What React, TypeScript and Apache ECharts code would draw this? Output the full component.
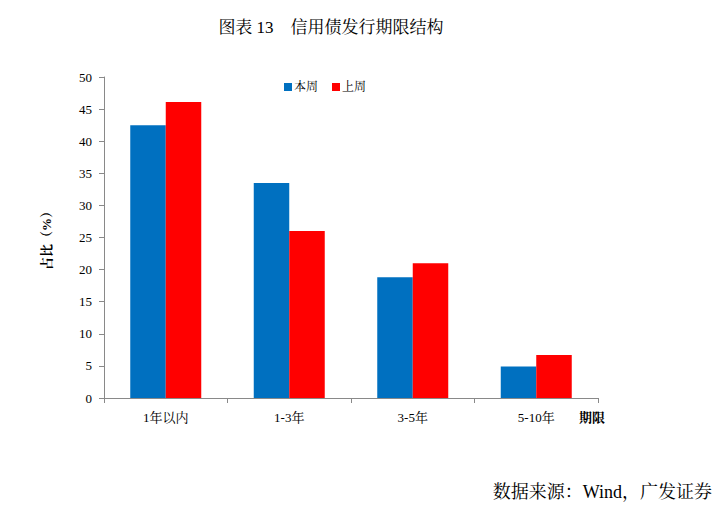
import React, { useEffect, useRef } from "react";
import * as echarts from "echarts";

const categories = ["1年以内", "1-3年", "3-5年", "5-10年"];
const thisWeek = [42.5, 33.5, 18.8, 4.9];
const lastWeek = [46.1, 26.0, 21.0, 6.7];
const seriesNames = ["本周", "上周"];

const SERIF = "'Liberation Serif', 'Noto Serif CJK SC', 'Noto Sans CJK SC', serif";

export default function App() {
  const ref = useRef<HTMLDivElement>(null);
  useEffect(() => {
    const chart = echarts.init(ref.current!, undefined, { renderer: "svg" });
    chart.setOption({
      animation: false,
      backgroundColor: "#fff",
      textStyle: { fontFamily: SERIF },
      title: {
        text: "图表 13    信用债发行期限结构",
        left: 318,
        textAlign: "center",
        top: 6,
        textStyle: { fontSize: 17, fontWeight: "normal", color: "#000", fontFamily: SERIF },
      },
      graphic: [
        {
          type: "text",
          right: 6,
          top: 475,
          style: { text: "数据来源：Wind，广发证券", fontSize: 18, fill: "#000", fontFamily: SERIF },
        },
        {
          type: "text",
          left: 571,
          top: 403,
          style: { text: "期限", fontSize: 13, fontWeight: "bold", fill: "#000", fontFamily: SERIF },
        },
      ],
      legend: {
        data: seriesNames,
        left: 271,
        top: 68,
        itemWidth: 8,
        itemHeight: 8,
        itemGap: 14,
        icon: "rect",
        textStyle: { fontSize: 12, color: "#000", fontFamily: SERIF, padding: [0, 0, 0, -3] },
      },
      grid: { left: 96, right: 120, top: 69, bottom: 104, containLabel: false },
      xAxis: {
        type: "category",
        data: categories,
        axisLine: { lineStyle: { color: "#898989" } },
        axisTick: { show: true, alignWithLabel: false, length: 5, lineStyle: { color: "#898989" } },
        axisLabel: { fontSize: 13, color: "#000", margin: 13, fontFamily: SERIF },
      },
      yAxis: {
        type: "value",
        min: 0,
        max: 50,
        interval: 5,
        name: "占比（%）",
        nameLocation: "middle",
        nameRotate: 90,
        nameGap: 51,
        nameTextStyle: { fontSize: 13, fontWeight: "bold", color: "#000", fontFamily: SERIF },
        axisLine: { show: true, lineStyle: { color: "#898989" } },
        axisTick: { show: true, length: 5, inside: false, lineStyle: { color: "#898989" } },
        splitLine: { show: false },
        axisLabel: { fontSize: 13, color: "#000", margin: 12, fontFamily: SERIF },
      },
      series: [
        {
          name: seriesNames[0],
          type: "bar",
          data: thisWeek,
          barWidth: 35.5,
          barGap: "0%",
          itemStyle: { color: "#0070C0" },
        },
        {
          name: seriesNames[1],
          type: "bar",
          data: lastWeek,
          barWidth: 35.5,
          barGap: "0%",
          itemStyle: { color: "#FF0000" },
        },
      ],
    });
    return () => chart.dispose();
  }, []);
  return <div ref={ref} style={{ width: 710, height: 494 }} />;
}
